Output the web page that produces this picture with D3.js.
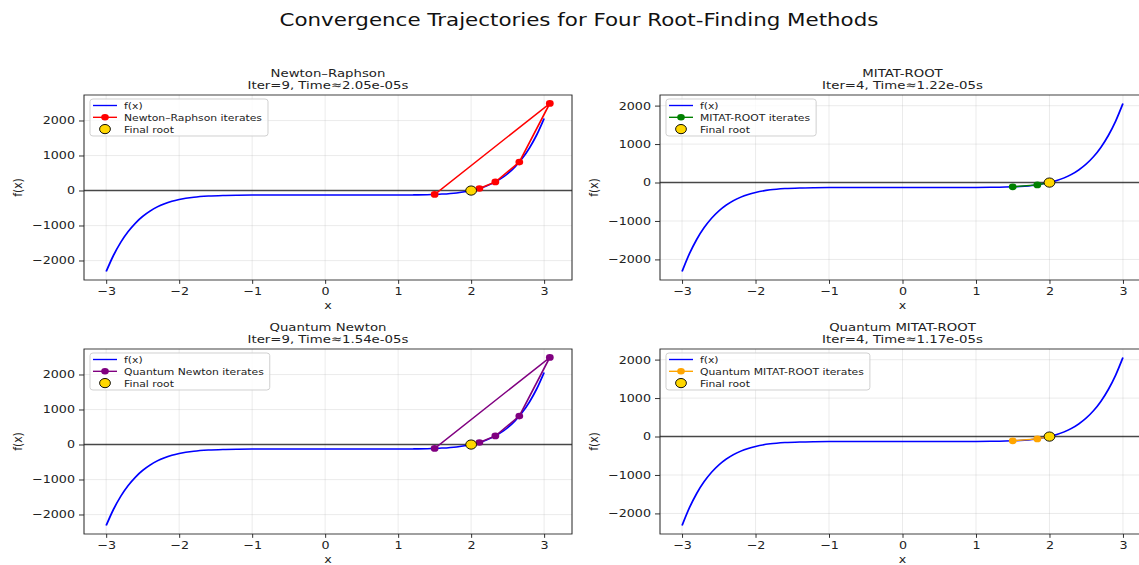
<!DOCTYPE html>
<html>
<head>
<meta charset="utf-8">
<script src="https://cdn.jsdelivr.net/npm/d3@7"></script>
<style>
  body { margin: 0; background: #fff; }
  svg { display: block; font-family: "DejaVu Sans", sans-serif; }
</style>
</head>
<body>
<svg id="main"></svg>
<script>
// f(x)
const curveX = [-3, -2.9, -2.8, -2.7, -2.6, -2.5, -2.4, -2.3, -2.2, -2.1, -2, -1.8, -1.6, -1.4, -1.2, -1, -0.5, 0, 0.5, 1, 1.2, 1.4, 1.6, 1.8, 2, 2.1, 2.2, 2.3, 2.4, 2.5, 2.6, 2.7, 2.8, 2.9, 3];
const curveY = [-2315, -1853, -1477, -1174, -931, -738, -587, -468, -377, -308, -256, -189, -155, -139, -132, -129, -128, -128, -128, -127, -124, -117, -101, -67, 0, 52, 121, 212, 331, 482, 675, 918, 1221, 1597, 2059];

// iterates
const newtonX = [1.5, 3.078, 2.66, 2.332, 2.113, 2.017, 2.0004, 2.0, 2.0, 2.0];
const newtonY = [-111, 2490, 814, 247, 60, 7.6, 0.2, 0, 0, 0];
const qNewtonX = [1.5, 3.078, 2.66, 2.332, 2.113, 2.017, 2.0004, 2.0, 2.0, 2.0];
const qNewtonY = [-111, 2490, 814, 247, 60, 7.6, 0.2, 0, 0, 0];
const mitatX = [1.5, 1.835, 2.0, 2.0, 2.0];
const mitatY = [-111, -60, 0, 0, 0];
const qMitatX = [1.5, 1.835, 2.0, 2.0, 2.0];
const qMitatY = [-111, -60, 0, 0, 0];
const rootX = 2.0, rootY = 0;

const methods = ["Newton–Raphson", "MITAT-ROOT", "Quantum Newton", "Quantum MITAT-ROOT"];
const iters = [9, 4, 9, 4];
const times = ["2.05e-05s", "1.22e-05s", "1.54e-05s", "1.17e-05s"];
const colors = ["red", "green", "purple", "orange"];
const xTicks = [-3, -2, -1, 0, 1, 2, 3];
const yTicks = [-2000, -1000, 0, 1000, 2000];

const W = 1139, H = 661, SY = H / 565;
const svg = d3.select("#main")
  .attr("width", 1139).attr("height", 565)
  .attr("viewBox", `0 0 ${W} ${H}`)
  .attr("preserveAspectRatio", "none");

svg.append("rect").attr("width", W).attr("height", H).attr("fill", "#fff");

svg.append("text")
  .attr("x", 579).attr("y", 26 * SY)
  .attr("text-anchor", "middle")
  .attr("font-size", 21.4).attr("fill", "#111")
  .text("Convergence Trajectories for Four Root-Finding Methods");

const boxes = [
  {left: 84, right: 572, top: 95, bottom: 280},
  {left: 660, right: 1145, top: 95, bottom: 280},
  {left: 84, right: 572, top: 349, bottom: 534},
  {left: 660, right: 1145, top: 349, bottom: 534}
];
const itX = [newtonX, mitatX, qNewtonX, qMitatX];
const itY = [newtonY, mitatY, qNewtonY, qMitatY];

function pad(ext) {
  const m = (ext[1] - ext[0]) * 0.05;
  return [ext[0] - m, ext[1] + m];
}

for (let i = 0; i < 4; i++) {
  const b = boxes[i];
  const top = b.top * SY, bottom = b.bottom * SY;
  const xs = itX[i], ys = itY[i];
  const x = d3.scaleLinear()
    .domain(pad(d3.extent(curveX.concat(xs))))
    .range([b.left, b.right]);
  const y = d3.scaleLinear()
    .domain(pad(d3.extent(curveY.concat(ys))))
    .range([bottom, top]);
  const g = svg.append("g");

  // grid
  g.selectAll(".gx").data(xTicks).enter().append("line")
    .attr("x1", d => x(d)).attr("x2", d => x(d))
    .attr("y1", top).attr("y2", bottom)
    .attr("stroke", "#b0b0b0").attr("stroke-opacity", 0.35).attr("stroke-width", 0.8);
  g.selectAll(".gy").data(yTicks).enter().append("line")
    .attr("x1", b.left).attr("x2", b.right)
    .attr("y1", d => y(d)).attr("y2", d => y(d))
    .attr("stroke", "#b0b0b0").attr("stroke-opacity", 0.35).attr("stroke-width", 0.8);

  // zero line
  g.append("line")
    .attr("x1", b.left).attr("x2", b.right)
    .attr("y1", y(0)).attr("y2", y(0))
    .attr("stroke", "#000").attr("stroke-opacity", 0.7).attr("stroke-width", 1.7);

  // f(x)
  const line = d3.line().x(d => x(d[0])).y(d => y(d[1]));
  g.append("path")
    .datum(d3.zip(curveX, curveY))
    .attr("d", line.curve(d3.curveMonotoneX))
    .attr("fill", "none").attr("stroke", "blue").attr("stroke-width", 1.8);

  // iterates
  const pts = d3.zip(xs, ys);
  g.append("path")
    .datum(pts)
    .attr("d", d3.line().x(d => x(d[0])).y(d => y(d[1])))
    .attr("fill", "none").attr("stroke", colors[i]).attr("stroke-width", 1.7);
  g.selectAll(".pt").data(pts).enter().append("circle")
    .attr("cx", d => x(d[0])).attr("cy", d => y(d[1]))
    .attr("r", 3.9).attr("fill", colors[i]);

  g.append("circle")
    .attr("cx", x(rootX)).attr("cy", y(rootY))
    .attr("r", 5.4).attr("fill", "gold")
    .attr("stroke", "#000").attr("stroke-width", 1);

  // axes
  const ax = g.append("g").attr("transform", `translate(0,${bottom})`)
    .call(d3.axisBottom(x).tickValues(xTicks).tickSize(4.5).tickPadding(4)
      .tickFormat(d => d3.format("")(d).replace("-", "−")));
  const ay = g.append("g").attr("transform", `translate(${b.left},0)`)
    .call(d3.axisLeft(y).tickValues(yTicks).tickSize(5).tickPadding(4)
      .tickFormat(d => String(d).replace("-", "−")));
  [ax, ay].forEach(a => {
    a.select(".domain").remove();
    a.selectAll("line").attr("stroke", "#222");
    a.selectAll("text").attr("font-size", 12.7).attr("fill", "#222")
      .attr("font-family", "DejaVu Sans");
  });

  g.append("rect")
    .attr("x", b.left).attr("y", top)
    .attr("width", b.right - b.left).attr("height", bottom - top)
    .attr("fill", "none").attr("stroke", "#222").attr("stroke-width", 1);

  const cx = (b.left + b.right) / 2;
  g.append("text").attr("x", cx).attr("y", bottom + 29 * SY)
    .attr("text-anchor", "middle").attr("font-size", 12.7).attr("fill", "#222").text("x");
  g.append("text")
    .attr("transform", `translate(${b.left - 62},${(top + bottom) / 2}) rotate(-90)`)
    .attr("text-anchor", "middle").attr("font-size", 12.7).attr("fill", "#222").text("f(x)");

  g.append("text").attr("x", cx).attr("y", top - 17.5 * SY)
    .attr("text-anchor", "middle").attr("font-size", 13.3).attr("fill", "#222")
    .text(methods[i]);
  g.append("text").attr("x", cx).attr("y", top - 6 * SY)
    .attr("text-anchor", "middle").attr("font-size", 13.3).attr("fill", "#222")
    .text(`Iter=${iters[i]}, Time≈${times[i]}`);

  // legend
  const lx = b.left + 6, ly = top + 4 * SY;
  const lg = g.append("g");
  const frame = lg.append("rect")
    .attr("x", lx).attr("y", ly).attr("height", 37 * SY)
    .attr("rx", 3).attr("fill", "#fff").attr("fill-opacity", 0.8)
    .attr("stroke", "#ccc").attr("stroke-width", 1);
  const labels = ["f(x)", methods[i] + " iterates", "Final root"];
  let maxW = 0;
  labels.forEach((t, k) => {
    const yy = ly + (6.5 + k * 11.8) * SY;
    if (k < 2) {
      lg.append("line").attr("x1", lx + 3).attr("x2", lx + 27)
        .attr("y1", yy).attr("y2", yy)
        .attr("stroke", k == 0 ? "blue" : colors[i]).attr("stroke-width", 1.6);
    }
    if (k == 1) {
      lg.append("circle").attr("cx", lx + 15).attr("cy", yy).attr("r", 3.8).attr("fill", colors[i]);
    }
    if (k == 2) {
      lg.append("circle").attr("cx", lx + 15).attr("cy", yy).attr("r", 5.4)
        .attr("fill", "gold").attr("stroke", "#000").attr("stroke-width", 1);
    }
    const tx = lg.append("text").attr("x", lx + 34).attr("y", yy + 3.8 * SY)
      .attr("font-size", 10.8).attr("fill", "#222").text(t);
    maxW = Math.max(maxW, tx.node().getComputedTextLength());
  });
  frame.attr("width", maxW + 40);
}
</script>
</body>
</html>
